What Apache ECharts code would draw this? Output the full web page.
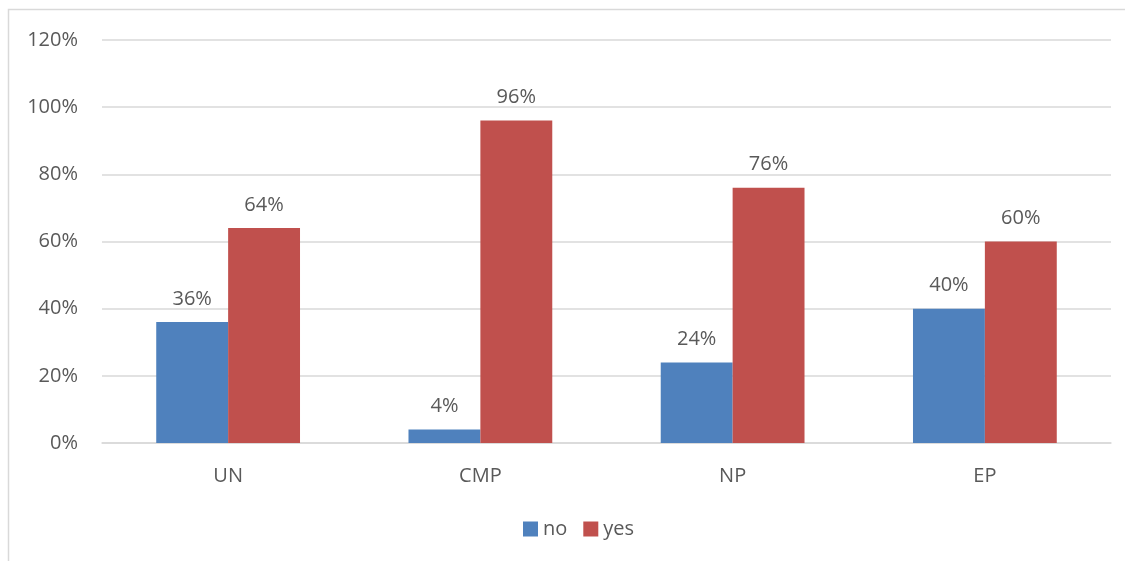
<!DOCTYPE html>
<html>
<head>
<meta charset="utf-8">
<script src="https://cdn.jsdelivr.net/npm/echarts@6/dist/echarts.min.js"></script>
<style>html,body{margin:0;padding:0;background:#fff;}#c{width:1125px;height:561px;}</style>
</head>
<body>
<div id="c"></div>
<script>
var categories = ['UN', 'CMP', 'NP', 'EP'];
var noValues = [36, 4, 24, 40];
var yesValues = [64, 96, 76, 60];
var yTicks = [0, 20, 40, 60, 80, 100, 120];

var chart = echarts.init(document.getElementById('c'));
var font = 'Open Sans, Liberation Sans, sans-serif';
var txt = '#595959';
var labelCfg = {show: true, position: 'top', distance: 13, color: txt, fontSize: 20, fontFamily: font, formatter: '{c}%'};
chart.setOption({
  animation: false,
  graphic: [{type: 'rect', shape: {x: 8.5, y: 9.5, width: 1130, height: 570}, style: {fill: 'none', stroke: '#d9d9d9', lineWidth: 1.5}, silent: true}],
  grid: {left: 102, right: 14, top: 40, bottom: 118, containLabel: false},
  legend: {
    data: ['no', 'yes'], top: 514, left: 518, itemWidth: 15, itemHeight: 15, itemGap: 16,
    icon: 'rect', textStyle: {color: txt, fontSize: 20, fontFamily: font}
  },
  xAxis: {
    type: 'category', data: categories,
    axisLine: {show: true, lineStyle: {color: '#d9d9d9', width: 1.5}},
    axisTick: {show: false},
    axisLabel: {color: txt, fontSize: 20, fontFamily: font, margin: 23}
  },
  yAxis: {
    type: 'value', min: 0, max: 120, interval: 20,
    axisLine: {show: false}, axisTick: {show: false},
    splitLine: {lineStyle: {color: '#d9d9d9', width: 1.5}},
    axisLabel: {color: txt, fontSize: 20, fontFamily: font, margin: 24,
      formatter: function (v) { return yTicks.indexOf(v) >= 0 ? v + '%' : ''; }}
  },
  series: [
    {name: 'no', type: 'bar', data: noValues, barGap: '0%', barCategoryGap: '43%', itemStyle: {color: '#4F81BD'}, label: labelCfg},
    {name: 'yes', type: 'bar', data: yesValues, barGap: '0%', barCategoryGap: '43%', itemStyle: {color: '#C0504D'}, label: labelCfg}
  ]
});
</script>
</body>
</html>
